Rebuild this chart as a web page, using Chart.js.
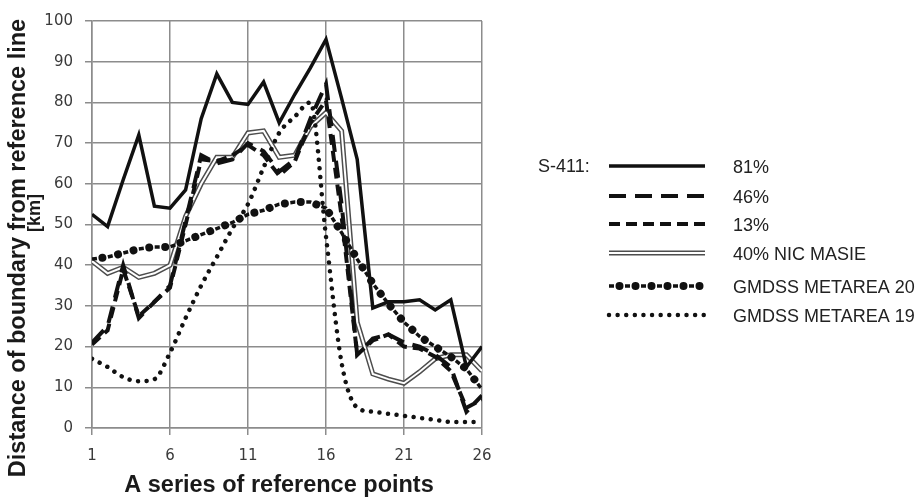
<!DOCTYPE html>
<html>
<head>
<meta charset="utf-8">
<title>Boundary distance</title>
<script src="https://cdn.jsdelivr.net/npm/chart.js@4.4.1/dist/chart.umd.min.js"></script>
<style>
    html, body { margin: 0; padding: 0; background: #fff; }
</style>
</head>
<body>
<canvas id="boundaryChart" width="918" height="500"></canvas>
<script>
// reference points along the x axis
const points = [1, 2, 3, 4, 5, 6, 7, 8, 9, 10, 11, 12, 13, 14, 15, 16, 17, 18, 19, 20, 21, 22, 23, 24, 25, 26];
const xTickLabels = [1, 6, 11, 16, 21, 26];
const yTickLabels = [0, 10, 20, 30, 40, 50, 60, 70, 80, 90, 100];

// distance of boundary from reference line [km]
const s411_81 = [52.5, 49.5, 61, 72, 54.5, 54, 58.5, 76, 87, 80, 79.5, 85, 75, 82, 88.5, 95.5, 81, 66, 29.5, 31, 31, 31.5, 29, 31.5, 15, 20];
const s411_46 = [21, 25, 40, 27, 31, 35, 51, 67, 65, 66, 70, 68, 63, 66, 76, 84.5, 55, 18, 22, 23, 21, 20, 18, 15, 4, 8];
const s411_13 = [20.5, 24, 39, 27.5, 31, 34.5, 50, 66, 65.5, 67, 69.5, 67, 62, 65.5, 75, 80.5, 52, 18, 21.5, 23, 20, 19.5, 17.5, 14, 5, 7];
const nicMasie40 = [41, 38, 39.5, 37, 38, 40, 52, 60, 66.5, 66.5, 72.5, 73, 66.5, 67, 74, 77.5, 73, 26, 13.3, 12, 11, 13.8, 17, 18, 18, 14];
const metarea20 = [41.5, 42, 43, 44, 44.5, 44.5, 46, 47.5, 49, 50.5, 52.5, 53.5, 55, 55.5, 55.5, 54, 48, 41.5, 35.5, 30.5, 26, 22.5, 20, 17.5, 14.5, 9.5];
const metarea19 = [17, 15, 12.5, 11.5, 12, 18.5, 27, 35, 42, 49, 55, 64, 72.5, 76.5, 80, 47, 16, 5, 4, 3.5, 3, 2.5, 2, 1.5, 1.5, 1.5];

const legendPrefix = 'S-411:';
const legendNames = ['81%', '46%', '13%', '40% NIC MASIE', 'GMDSS METAREA 20', 'GMDSS METAREA 19'];
const yTitle = ['Distance of boundary from reference line', '[km]'];
const xTitle = 'A series of reference points';

function pts(vals) {
    return vals.map((v, i) => ({ x: points[i], y: v }));
}

const ink = '#111';
const gridGray = '#8c8c8c';
const tickFont = { family: '"DejaVu Sans", Verdana, sans-serif', size: 15 };
const titleFont = '"Liberation Sans", Arial, sans-serif';

function rotatedText(ctx, text, x, y, font) {
    ctx.save();
    ctx.font = font;
    ctx.translate(x, y);
    ctx.rotate(-Math.PI / 2);
    ctx.fillText(text, 0, 0);
    ctx.restore();
}

// axis titles + custom legend (legend samples reuse the dataset line styles)
const legendRows = [166, 196, 224, 253, 286, 315];
const annotate = {
    id: 'annotate',
    afterDraw(chart) {
        const ctx = chart.ctx;
        ctx.save();
        ctx.fillStyle = '#1a1a1a';
        ctx.textAlign = 'center';
        ctx.textBaseline = 'middle';
        rotatedText(ctx, yTitle[0], 19, 248, 'bold 23.5px ' + titleFont);
        rotatedText(ctx, yTitle[1], 35, 213, 'bold 18px ' + titleFont);
        ctx.font = 'bold 23.5px ' + titleFont;
        ctx.fillText(xTitle, 279, 486);
        ctx.restore();

        // legend
        ctx.save();
        ctx.fillStyle = '#222';
        ctx.textAlign = 'left';
        ctx.textBaseline = 'middle';
        ctx.font = '18px ' + titleFont;
        ctx.fillText(legendPrefix, 538, legendRows[0] + 1);
        const sets = chart.data.datasets.slice().sort((a, b) => b.order - a.order);
        legendNames.forEach((name, i) => {
            const y = legendRows[i];
            sets.filter(ds => ds.legendIndex === i).forEach(ds => {
                ctx.save();
                ctx.strokeStyle = ds.borderColor;
                ctx.lineWidth = ds.borderWidth;
                ctx.lineCap = ds.borderCapStyle || 'butt';
                ctx.setLineDash(ds.borderDash || []);
                ctx.lineDashOffset = ds.borderDashOffset || 0;
                ctx.beginPath();
                ctx.moveTo(609, y);
                ctx.lineTo(705, y);
                ctx.stroke();
                ctx.restore();
            });
            ctx.fillText(name, 733, y + 2);
        });
        ctx.restore();
    }
};

const ctx = document.getElementById('boundaryChart');
new Chart(ctx, {
    type: 'line',
    data: {
        datasets: [
            {
                label: legendNames[0], legendIndex: 0, order: 1,
                data: pts(s411_81),
                borderColor: ink, borderWidth: 3.5,
                borderJoinStyle: 'miter'
            },
            {
                label: legendNames[1], legendIndex: 1, order: 2,
                data: pts(s411_46),
                borderColor: ink, borderWidth: 4,
                borderDash: [17, 9]
            },
            {
                label: legendNames[2], legendIndex: 2, order: 3,
                data: pts(s411_13),
                borderColor: ink, borderWidth: 4,
                borderDash: [11, 6]
            },
            {
                // inner white of the double line
                label: legendNames[3], legendIndex: 3, order: 7,
                data: pts(nicMasie40),
                borderColor: '#fff', borderWidth: 2
            },
            {
                label: legendNames[3], legendIndex: 3, order: 8,
                data: pts(nicMasie40),
                borderColor: '#4d4d4d', borderWidth: 5
            },
            {
                label: legendNames[4], legendIndex: 4, order: 4,
                data: pts(metarea20),
                borderColor: ink, borderWidth: 3.5,
                borderDash: [5, 11]
            },
            {
                label: legendNames[4], legendIndex: 4, order: 4,
                data: pts(metarea20),
                borderColor: ink, borderWidth: 8,
                borderCapStyle: 'round',
                borderDash: [0.01, 15.99], borderDashOffset: 5.5
            },
            {
                label: legendNames[5], legendIndex: 5, order: 5,
                data: pts(metarea19),
                borderColor: ink, borderWidth: 4.5,
                borderCapStyle: 'round',
                borderDash: [0.01, 8.6],
                cubicInterpolationMode: 'monotone'
            }
        ]
    },
    options: {
        responsive: false,
        animation: false,
        layout: { padding: { left: 0, top: 13, right: 436, bottom: 0 } },
        elements: { point: { radius: 0 } },
        plugins: {
            legend: { display: false },
            tooltip: { enabled: false }
        },
        scales: {
            x: {
                type: 'linear',
                min: 1,
                max: 26,
                afterBuildTicks: (scale) => { scale.ticks = xTickLabels.map(v => ({ value: v })); },
                afterFit: (scale) => { scale.height = 72; },
                grid: { color: gridGray, lineWidth: 1.5, tickLength: 7 },
                border: { color: gridGray, width: 1.5 },
                ticks: { color: '#3a3a3a', font: tickFont, padding: 12, maxRotation: 0 }
            },
            y: {
                min: 0,
                max: 100,
                afterBuildTicks: (scale) => { scale.ticks = yTickLabels.map(v => ({ value: v })); },
                afterFit: (scale) => { scale.width = 92; },
                grid: { color: gridGray, lineWidth: 1.5, tickLength: 7 },
                border: { color: gridGray, width: 1.5 },
                ticks: { color: '#3a3a3a', font: tickFont, padding: 12 }
            }
        }
    },
    plugins: [annotate]
});
</script>
</body>
</html>
